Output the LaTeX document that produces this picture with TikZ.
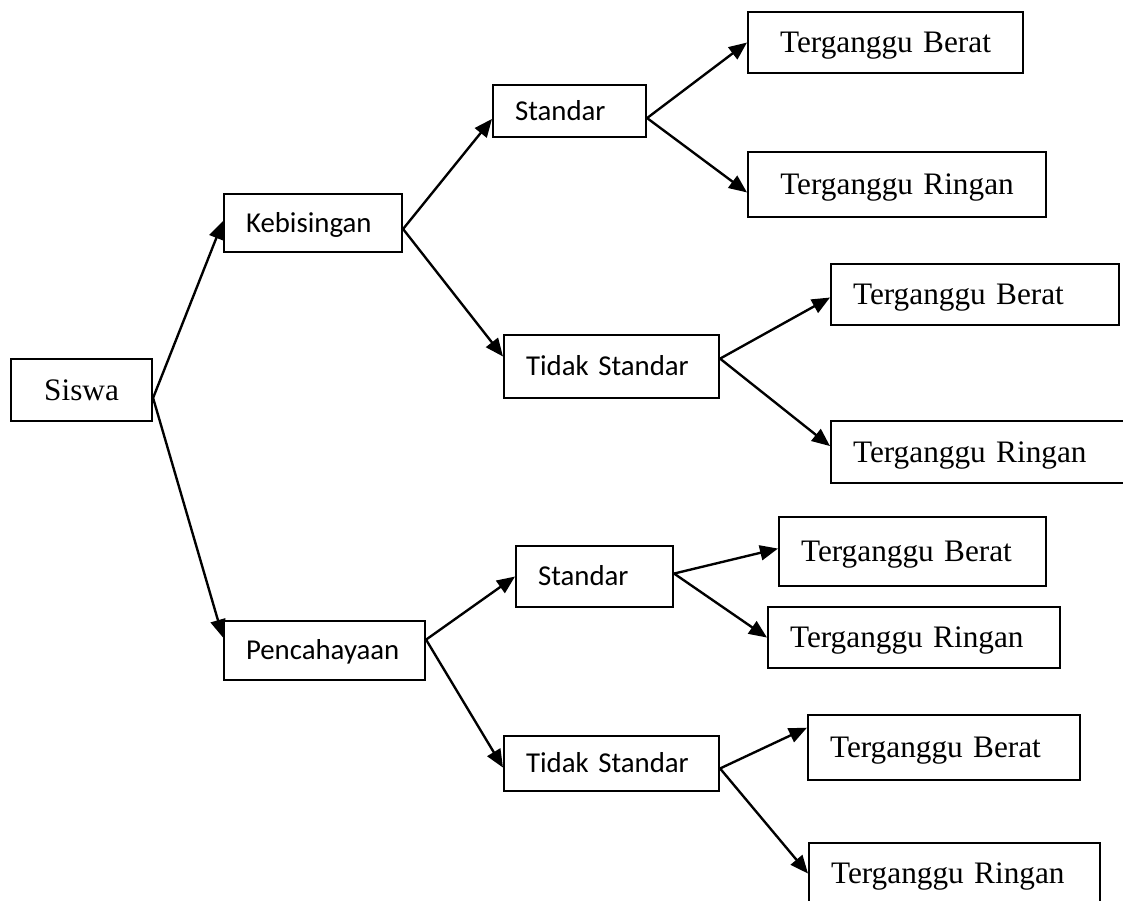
\documentclass[tikz,border=0pt]{standalone}
\usepackage{fontspec}
\setmainfont{Liberation Serif}
\newfontfamily\calibri{Carlito}
\usetikzlibrary{arrows.meta}

\tikzset{
    kotak/.style={draw, line width=1.2pt, anchor=north west, inner xsep=0.44cm,
        inner ysep=0pt, text depth=0pt, align=left},
    serif/.style={font=\fontsize{17.8}{20}\selectfont, text height=11.8pt},
    sans/.style={font=\calibri\fontsize{16.4}{19}\selectfont, text height=10.6pt},
    panah/.style={-{Triangle[length=0.36cm,width=0.30cm]}, line width=1.35pt}
}

\begin{document}
\begin{tikzpicture}[x=0.02cm,y=-0.02cm]
    \useasboundingbox (0,0) rectangle (1123,901);
    % Akar
    \node[kotak,serif,align=center,text width=1.94cm,minimum height=1.24cm] (siswa) at (10,358) {Siswa};
    % Faktor
    \node[kotak,sans,text width=2.68cm,minimum height=1.16cm] (bising) at (223,193) {Kebisingan};
    \node[kotak,sans,text width=3.14cm,minimum height=1.18cm] (cahaya) at (223,620) {Pencahayaan};
    % Kondisi
    \node[kotak,sans,text width=2.18cm,minimum height=1.04cm] (bstd) at (492,84) {Standar};
    \node[kotak,sans,text width=3.42cm,minimum height=1.26cm] (btdk) at (503,334) {Tidak Standar};
    \node[kotak,sans,text width=2.26cm,minimum height=1.22cm] (cstd) at (515,545) {Standar};
    \node[kotak,sans,text width=3.42cm,minimum height=1.10cm] (ctdk) at (503,735) {Tidak Standar};
    % Hasil
    \node[kotak,serif,align=center,text width=4.62cm,minimum height=1.22cm] (bstdB) at (747,11) {Terganggu Berat};
    \node[kotak,serif,align=center,text width=5.08cm,minimum height=1.30cm] (bstdR) at (747,151) {Terganggu Ringan};
    \node[kotak,serif,text width=4.88cm,minimum height=1.22cm] (btdkB) at (830,263) {Terganggu Berat};
    \node[kotak,serif,text width=5.12cm,minimum height=1.24cm] (btdkR) at (830,420) {Terganggu Ringan};
    \node[kotak,serif,text width=4.46cm,minimum height=1.38cm] (cstdB) at (778,516) {Terganggu Berat};
    \node[kotak,serif,text width=4.96cm,minimum height=1.22cm] (cstdR) at (767,606) {Terganggu Ringan};
    \node[kotak,serif,text width=4.56cm,minimum height=1.30cm] (ctdkB) at (807,714) {Terganggu Berat};
    \node[kotak,serif,text width=4.94cm,minimum height=1.22cm] (ctdkR) at (808,842) {Terganggu Ringan};
    % Panah dari siswa
    \draw[panah] ([yshift=-4.5pt]siswa.east) -- ([yshift=1.1pt]bising.west);
    \draw[panah] ([yshift=-4.5pt]siswa.east) -- ([yshift=7.4pt]cahaya.west);
    % Panah kebisingan
    \draw[panah] ([yshift=-3.4pt]bising.east) -- ([yshift=-4.5pt]bstd.west);
    \draw[panah] ([yshift=-3.4pt]bising.east) -- ([yshift=5.7pt]btdk.west);
    \draw[panah] ([yshift=-4pt]bstd.east) -- (bstdB.west);
    \draw[panah] ([yshift=-4pt]bstd.east) -- ([yshift=-4.5pt]bstdR.west);
    \draw[panah] ([yshift=4.5pt]btdk.east) -- ([yshift=-1.7pt]btdkB.west);
    \draw[panah] ([yshift=4.5pt]btdk.east) -- ([yshift=3.4pt]btdkR.west);
    % Panah pencahayaan
    \draw[panah] ([yshift=6.2pt]cahaya.east) -- (cstd.west);
    \draw[panah] ([yshift=6.2pt]cahaya.east) -- ([yshift=-2.3pt]ctdk.west);
    \draw[panah] ([yshift=1.7pt]cstd.east) -- ([yshift=1.7pt]cstdB.west);
    \draw[panah] ([yshift=1.7pt]cstd.east) -- (cstdR.west);
    \draw[panah] ([yshift=-2.8pt]ctdk.east) -- ([yshift=11.3pt]ctdkB.west);
    \draw[panah] ([yshift=-2.8pt]ctdk.east) -- (ctdkR.west);
\end{tikzpicture}
\end{document}
